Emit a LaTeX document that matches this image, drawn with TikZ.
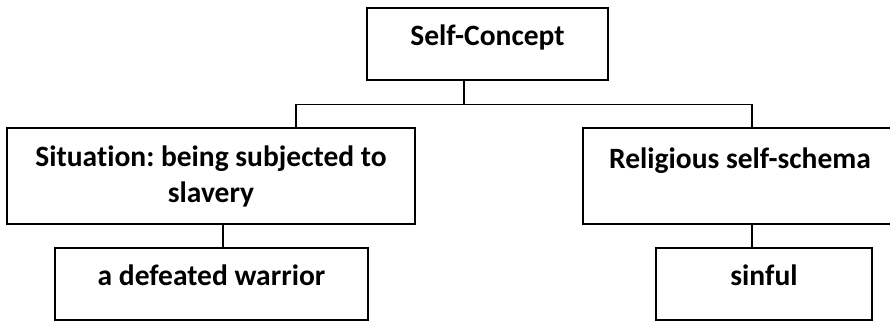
\documentclass[tikz,border=0pt]{standalone}
\usepackage{fontspec}
\setmainfont[Ligatures=NoCommon]{Carlito}
\frenchspacing
\begin{document}
\begin{tikzpicture}[x=1pt, y=-1pt,
                every node/.style = {draw, line width=1.3pt, inner sep=0pt, align=center,
                                     font=\fontsize{29.5}{36}\selectfont\bfseries},
                box/.style = {text height=0.65em, text depth=0.43em},
                link/.style = {line width=1.3pt}
            ]
            \useasboundingbox (0,0) rectangle (890,321);
            \node[box, minimum width=241, minimum height=72] (concept) at (487.5,44) {Self-Concept};
            \node[minimum width=408, minimum height=96] (situation) at (211,176) {Situation: being subjected to\\ slavery};
            \node[minimum width=314, minimum height=96] (religion) at (740,176) {Religious self-schema\\ ~};
            \node[box, minimum width=313, minimum height=72] (warrior) at (211.5,284) {a defeated warrior};
            \node[box, minimum width=216, minimum height=72] (sinful) at (764,284) {sinful};
            \draw[link] ([xshift=-23.5pt]concept.south) -- ++(0,24) coordinate (bus);
            \draw[link] ([xshift=85pt]situation.north) |- (bus) -| ([xshift=12pt]religion.north);
            \draw[link] ([xshift=12pt]situation.south) -- ([xshift=11.5pt]warrior.north);
            \draw[link] ([xshift=12pt]religion.south) -- ([xshift=-12pt]sinful.north);
        \end{tikzpicture}
\end{document}
